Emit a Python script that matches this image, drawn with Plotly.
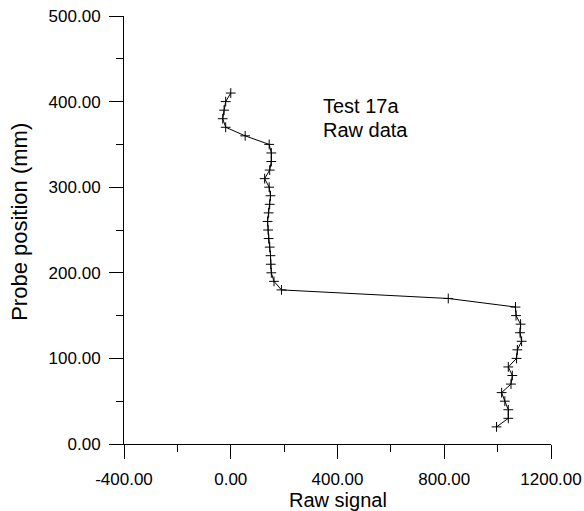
import plotly.graph_objects as go

# Data
probe_position = [410, 400, 390, 380, 370, 360, 350, 340, 330, 320, 310, 300, 290, 280,
                  270, 260, 250, 240, 230, 220, 210, 200, 190, 180, 170, 160, 150, 140,
                  130, 120, 110, 100, 90, 80, 70, 60, 50, 40, 30, 20]
raw_signal = [0, -19, -25, -30, -19, 54, 144, 152, 152, 146, 127, 144, 149, 146,
              142, 138, 140, 142, 146, 149, 150, 152, 162, 190, 815, 1067, 1069, 1086,
              1084, 1090, 1074, 1071, 1040, 1055, 1050, 1015, 1027, 1040, 1040, 996]

x_ticks = [-400, 0, 400, 800, 1200]
x_tick_labels = ["-400.00", "0.00", "400.00", "800.00", "1200.00"]
y_ticks = [0, 100, 200, 300, 400, 500]
y_tick_labels = ["0.00", "100.00", "200.00", "300.00", "400.00", "500.00"]
notes = ["Test 17a", "Raw data"]
x_title = "Raw signal"
y_title = "Probe position (mm)"

FONT = "Liberation Sans, Arial, sans-serif"

fig = go.Figure()
fig.add_trace(go.Scatter(
    x=raw_signal, y=probe_position, mode="lines+markers",
    line=dict(color="black", width=1),
    marker=dict(symbol="cross-thin", size=7, line=dict(color="black", width=1)),
    showlegend=False,
))

fig.add_annotation(x=341, y=395, xref="x", yref="y", text=notes[0], showarrow=False,
                   xanchor="left", yanchor="middle", borderpad=0,
                   font=dict(size=20, color="black", family=FONT))
fig.add_annotation(x=341, y=367, xref="x", yref="y", text=notes[1], showarrow=False,
                   xanchor="left", yanchor="middle", borderpad=0,
                   font=dict(size=20, color="black", family=FONT))

# axis titles placed as paper annotations for exact placement
fig.add_annotation(x=0.5, y=-0.131, xref="paper", yref="paper", text=x_title, showarrow=False,
                   xanchor="center", yanchor="middle", borderpad=0,
                   font=dict(size=20, color="black", family=FONT))
fig.add_annotation(x=-0.245, y=0.52, xref="paper", yref="paper", text=y_title, showarrow=False,
                   textangle=-90, xanchor="center", yanchor="middle", borderpad=0,
                   font=dict(size=22, color="black", family=FONT))

axis_common = dict(
    showgrid=False, zeroline=False, showline=True, linecolor="black", linewidth=1,
    ticks="outside", ticklen=14, tickwidth=1, tickcolor="black",
    tickfont=dict(size=17, color="black", family=FONT),
    automargin=False,
)

fig.update_xaxes(range=[-400, 1200], tickvals=x_ticks, ticktext=x_tick_labels,
                 ticklabelstandoff=6,
                 minor=dict(ticks="outside", ticklen=7, tickwidth=1, tickcolor="black", dtick=200, tick0=0),
                 **axis_common)
fig.update_yaxes(range=[0, 500], tickvals=y_ticks, ticktext=y_tick_labels,
                 ticklabelstandoff=5,
                 minor=dict(ticks="outside", ticklen=7, tickwidth=1, tickcolor="black", dtick=50, tick0=0),
                 **axis_common)

fig.update_layout(
    width=584, height=511,
    margin=dict(l=124, r=33, t=16, b=67, pad=0),
    plot_bgcolor="white", paper_bgcolor="white",
    font=dict(family=FONT, color="black"),
)

fig.write_html("out.html", config={"displayModeBar": False},
               post_script="document.body.style.margin='0px';document.body.style.overflow='hidden';")
